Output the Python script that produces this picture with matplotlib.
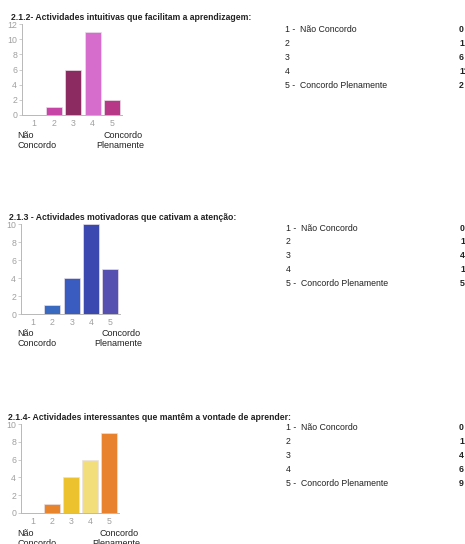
import numpy as np
import matplotlib.pyplot as plt

plt.rcParams['font.family'] = ['Liberation Sans', 'DejaVu Sans']

# answers on the 1..5 agreement scale
categories = [1, 2, 3, 4, 5]
scale_labels = ['1 -  Não Concordo', '2', '3', '4', '5 -  Concordo Plenamente']

titles = ['2.1.2- Actividades intuitivas que facilitam a aprendizagem:',
          '2.1.3 - Actividades motivadoras que cativam a atenção:',
          '2.1.4- Actividades interessantes que mantêm a vontade de aprender:']
intuitivas = [0, 1, 6, 11, 2]
motivadoras = [0, 1, 4, 10, 5]
interessantes = [0, 1, 4, 6, 9]
ymax = [12, 10, 10]

colors = [
    ['#c845a8', '#c845a8', '#8c2a62', '#d66ccc', '#b83888'],
    ['#3a6ac0', '#3a6ac0', '#3a5cc0', '#3a48b0', '#5650b0'],
    ['#e8842c', '#e8842c', '#ecc22e', '#f2de7a', '#e8822e'],
]

W, H = 465, 544
fig = plt.figure(figsize=(W / 100, H / 100), dpi=100)


def fx(x):
    return x / W


def fy(y):
    return 1 - y / H


def panel(values, title, cols, ylim, ax_box, title_xy, low_y, high_x,
          list_x, list_y, val_x):
    left, right, ytop, ybot = ax_box
    ax = fig.add_axes([fx(left), fy(ybot), fx(right - left), (ybot - ytop) / H])
    ax.bar(categories, values, 0.83, color=cols, edgecolor='#e8e0e8',
           linewidth=0.5)
    ax.set_xlim(0.38, 5.5)
    ax.set_ylim(0, ylim)
    ax.set_yticks(np.arange(0, ylim + 1, 2))
    ax.set_xticks(categories)
    for s in ['top', 'right']:
        ax.spines[s].set_visible(False)
    for s in ['left', 'bottom']:
        ax.spines[s].set_color('#b8b8b8')
        ax.spines[s].set_linewidth(0.7)
    ax.tick_params(axis='both', labelsize=6.3, colors='#b8b8b8',
                   labelcolor='#a0a0a0', length=2, width=0.5, pad=1.5)
    ax.tick_params(axis='x', length=0, pad=3)

    fig.text(fx(title_xy[0]), fy(title_xy[1]), title, fontsize=6.2,
             fontweight='bold', va='center', ha='left', color='#222222')
    fig.text(fx(17), fy(low_y), 'Não', fontsize=6.5, va='center',
             color='#222222')
    fig.text(fx(17), fy(low_y + 11), 'Concordo', fontsize=6.5, va='center',
             color='#222222')
    fig.text(fx(high_x), fy(low_y), 'Concordo', fontsize=6.5, va='center',
             ha='right', color='#222222')
    fig.text(fx(high_x + 1), fy(low_y + 11), 'Plenamente', fontsize=6.5,
             va='center', ha='right', color='#222222')

    for i, lab in enumerate(scale_labels):
        y = list_y + i * 14
        fig.text(fx(list_x), fy(y), lab, fontsize=6.3, va='center',
                 color='#222222')
        fig.text(fx(val_x), fy(y), str(values[i]), fontsize=6.3, va='center',
                 ha='left', color='#222222', fontweight='bold')


panel(intuitivas, titles[0], colors[0], ymax[0], (22, 122, 24, 115),
      (11, 18), 135, 143, 285, 29, 459)
panel(motivadoras, titles[1], colors[1], ymax[1], (21, 120, 224, 314),
      (9, 217), 333, 141, 286, 228, 460)
panel(interessantes, titles[2], colors[2], ymax[2], (21, 119, 424, 513),
      (8, 417), 533, 139, 286, 428, 459)

fig.savefig('out.png', dpi=100, facecolor='white')
